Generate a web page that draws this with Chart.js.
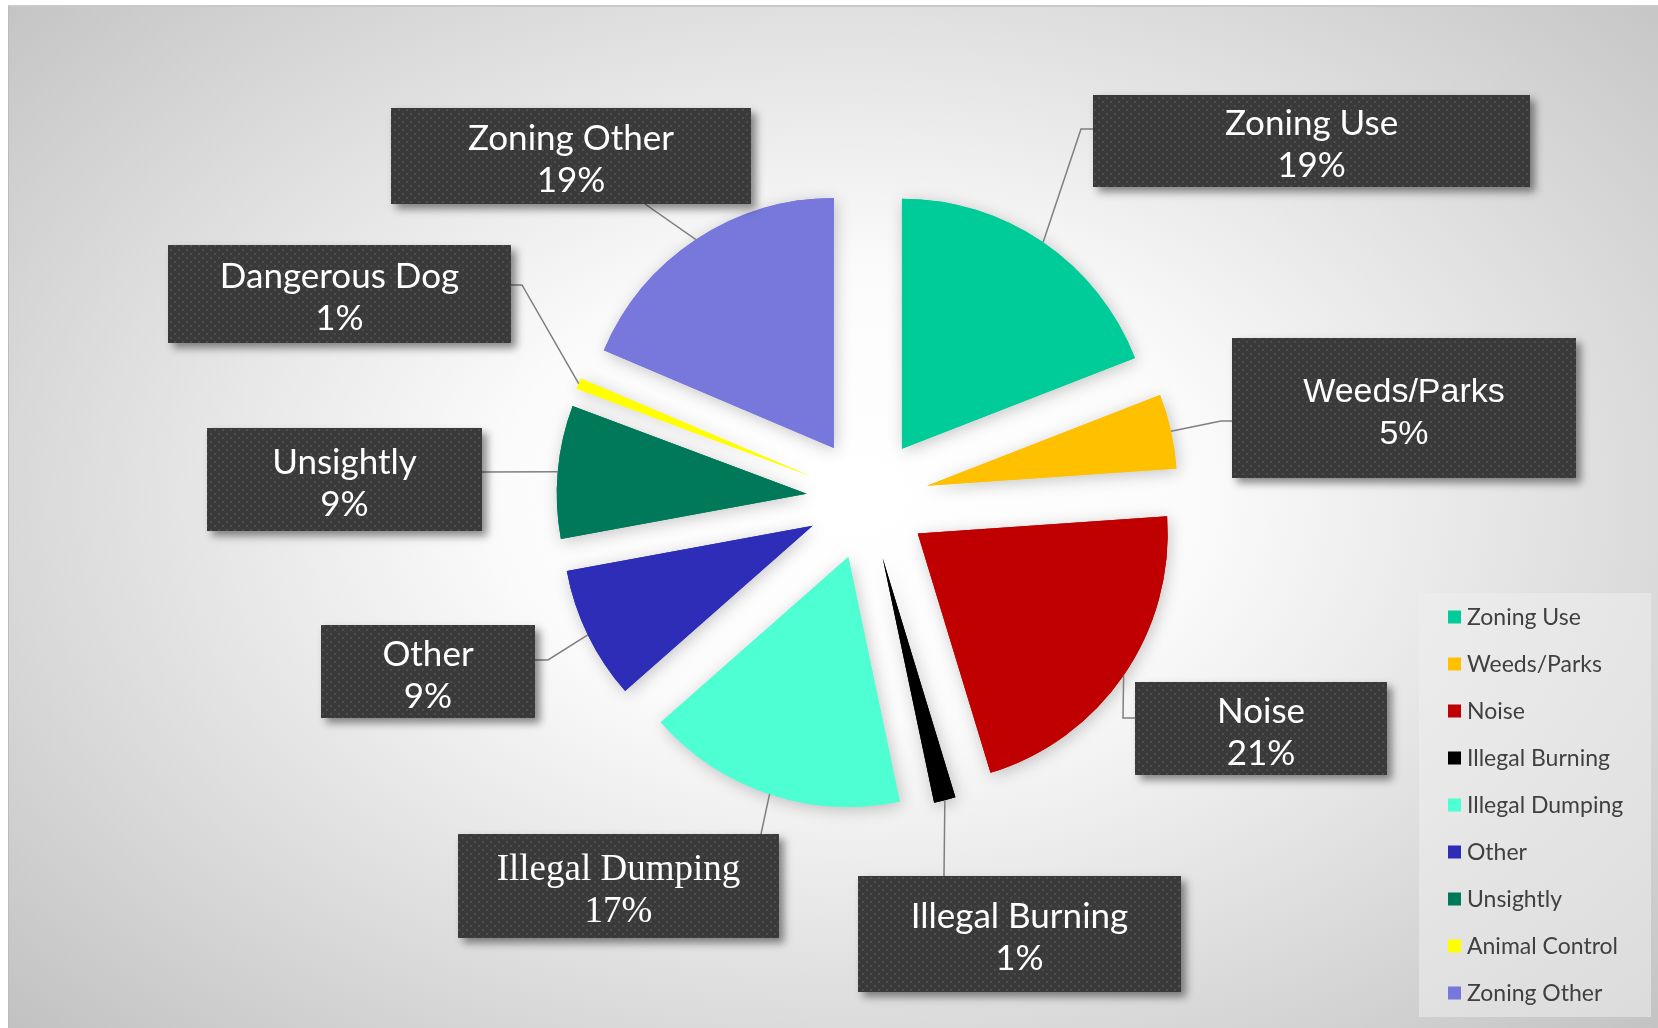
<!DOCTYPE html>
<html>
<head>
<meta charset="utf-8">
<script src="https://cdn.jsdelivr.net/npm/chart.js@4/dist/chart.umd.min.js"></script>
<style>
  html, body { margin: 0; padding: 0; background: #fff; }
  #wrap { position: relative; width: 1658px; height: 1028px; overflow: hidden; }
  #bg {
    position: absolute; left: 8px; top: 5px; right: 0; bottom: 0;
    border-top: 2px solid #c9c9c9; border-left: 1px solid #bcbcbc;
    background: radial-gradient(ellipse 70% 75% at 51% 48%, #ffffff 0%, #fbfbfb 30%, #c2c2c2 100%);
  }
  canvas { position: absolute; left: 0; top: 0; }
</style>
</head>
<body>
<div id="wrap">
  <div id="bg"></div>
  <canvas id="pie" width="1658" height="1028"></canvas>
</div>
<script>
// datos del gráfico
const categories   = ['Zoning Use', 'Weeds/Parks', 'Noise', 'Illegal Burning', 'Illegal Dumping',
                      'Other', 'Unsightly', 'Animal Control', 'Zoning Other'];
const shares       = [19.1, 4.8, 21.4, 1.4, 16.8, 8.6, 8.6, 0.7, 18.6];
const calloutNames = ['Zoning Use', 'Weeds/Parks', 'Noise', 'Illegal Burning', 'Illegal Dumping',
                      'Other', 'Unsightly', 'Dangerous Dog', 'Zoning Other'];
const sliceColors  = ['#00cc99', '#ffc000', '#c00000', '#000000', '#4dffd2',
                      '#2e2db8', '#00785a', '#ffff00', '#7878dc'];

const EXPLODE = 61;   // separación de cada porción

// cajas de etiquetas (posición manual, como en el original)
const callouts = [
  { box: [1093,  95, 437,  92], attach: [1093, 129], elbow: [1081, 129], font: '35px Lato' },
  { box: [1232, 338, 344, 140], attach: [1232, 421], elbow: [1221, 421], font: '34px "Liberation Sans"' },
  { box: [1135, 682, 252,  93], attach: [1135, 718], elbow: [1123, 718], font: '35px Lato' },
  { box: [ 858, 876, 323, 116], attach: [ 944, 876], elbow: null,        font: '35px Lato' },
  { box: [ 458, 834, 321, 104], attach: [ 761, 834], elbow: null,        font: '37px "Liberation Serif"' },
  { box: [ 321, 625, 214,  93], attach: [ 535, 660], elbow: [ 548, 660], font: '35px Lato' },
  { box: [ 207, 428, 275, 103], attach: [ 482, 472], elbow: null,        font: '35px Lato' },
  { box: [ 168, 245, 343,  98], attach: [ 511, 285], elbow: [ 522, 285], font: '35px Lato' },
  { box: [ 391, 108, 360,  96], attach: [ 645, 204], elbow: null,        font: '35px Lato' }
];

function makeDots(ctx) {
  const c = document.createElement('canvas');
  c.width = 8; c.height = 8;
  const p = c.getContext('2d');
  p.fillStyle = '#3a3a3a';
  p.fillRect(0, 0, 8, 8);
  p.fillStyle = '#4c4c4c';
  p.fillRect(2, 1, 2, 2);
  p.fillRect(6, 5, 2, 2);
  return ctx.createPattern(c, 'repeat');
}

const explodePlugin = {
  id: 'explode',
  beforeDatasetDraw(chart, args) {
    const ctx = chart.ctx;
    const arcs = args.meta.data;
    // primero sombras, luego porciones
    [true, false].forEach(withShadow => {
      arcs.forEach(arc => {
        const mid = (arc.startAngle + arc.endAngle) / 2;
        ctx.save();
        ctx.translate(Math.cos(mid) * EXPLODE, Math.sin(mid) * EXPLODE);
        if (withShadow) {
          ctx.shadowColor = 'rgba(0,0,0,0.22)';
          ctx.shadowBlur = 16;
          ctx.shadowOffsetX = 2;
          ctx.shadowOffsetY = 3;
        }
        arc.draw(ctx);
        ctx.restore();
      });
    });
    return false;
  }
};

const calloutPlugin = {
  id: 'callouts',
  afterDraw(chart) {
    const ctx = chart.ctx;
    const arcs = chart.getDatasetMeta(0).data;
    const total = shares.reduce((a, b) => a + b, 0);
    const dots = makeDots(ctx);

    // líneas guía
    ctx.save();
    ctx.strokeStyle = '#7f7f7f';
    ctx.lineWidth = 1.5;
    arcs.forEach((arc, i) => {
      const c = callouts[i];
      const mid = (arc.startAngle + arc.endAngle) / 2;
      const r = arc.outerRadius + EXPLODE;
      ctx.beginPath();
      ctx.moveTo(arc.x + Math.cos(mid) * r, arc.y + Math.sin(mid) * r);
      if (c.elbow) ctx.lineTo(c.elbow[0], c.elbow[1]);
      ctx.lineTo(c.attach[0], c.attach[1]);
      ctx.stroke();
    });
    ctx.restore();

    // cajas
    arcs.forEach((arc, i) => {
      const c = callouts[i];
      const [x, y, w, h] = c.box;
      ctx.save();
      ctx.shadowColor = 'rgba(0,0,0,0.45)';
      ctx.shadowBlur = 8;
      ctx.shadowOffsetX = 5;
      ctx.shadowOffsetY = 5;
      ctx.fillStyle = '#3a3a3a';
      ctx.fillRect(x, y, w, h);
      ctx.restore();
      ctx.save();
      ctx.fillStyle = dots;
      ctx.fillRect(x, y, w, h);
      ctx.fillStyle = '#ffffff';
      ctx.font = c.font;
      ctx.textAlign = 'center';
      ctx.textBaseline = 'alphabetic';
      const cx = x + w / 2, cy = y + h / 2;
      const pct = Math.round(shares[i] / total * 100) + '%';
      ctx.fillText(calloutNames[i], cx, cy - 6);
      ctx.fillText(pct, cx, cy + 36);
      ctx.restore();
    });

    // leyenda
    ctx.save();
    ctx.fillStyle = 'rgba(238,238,238,0.55)';
    ctx.fillRect(1419, 593, 232, 424);
    ctx.font = '23px Lato';
    ctx.textBaseline = 'middle';
    ctx.textAlign = 'left';
    categories.forEach((name, i) => {
      const yy = 617 + i * 47;
      ctx.fillStyle = sliceColors[i];
      ctx.fillRect(1448, yy - 6.5, 13, 13);
      ctx.fillStyle = '#404040';
      ctx.fillText(name, 1467, yy + 1);
    });
    ctx.restore();
  }
};

new Chart(document.getElementById('pie'), {
  type: 'pie',
  data: {
    labels: categories,
    datasets: [{
      data: shares,
      backgroundColor: sliceColors,
      borderWidth: 0
    }]
  },
  options: {
    responsive: false,
    animation: false,
    events: [],
    radius: 250,
    layout: { padding: { left: 77, right: 0, top: 0, bottom: 30 } },
    plugins: {
      legend: { display: false },
      tooltip: { enabled: false }
    }
  },
  plugins: [explodePlugin, calloutPlugin]
});
</script>
</body>
</html>
